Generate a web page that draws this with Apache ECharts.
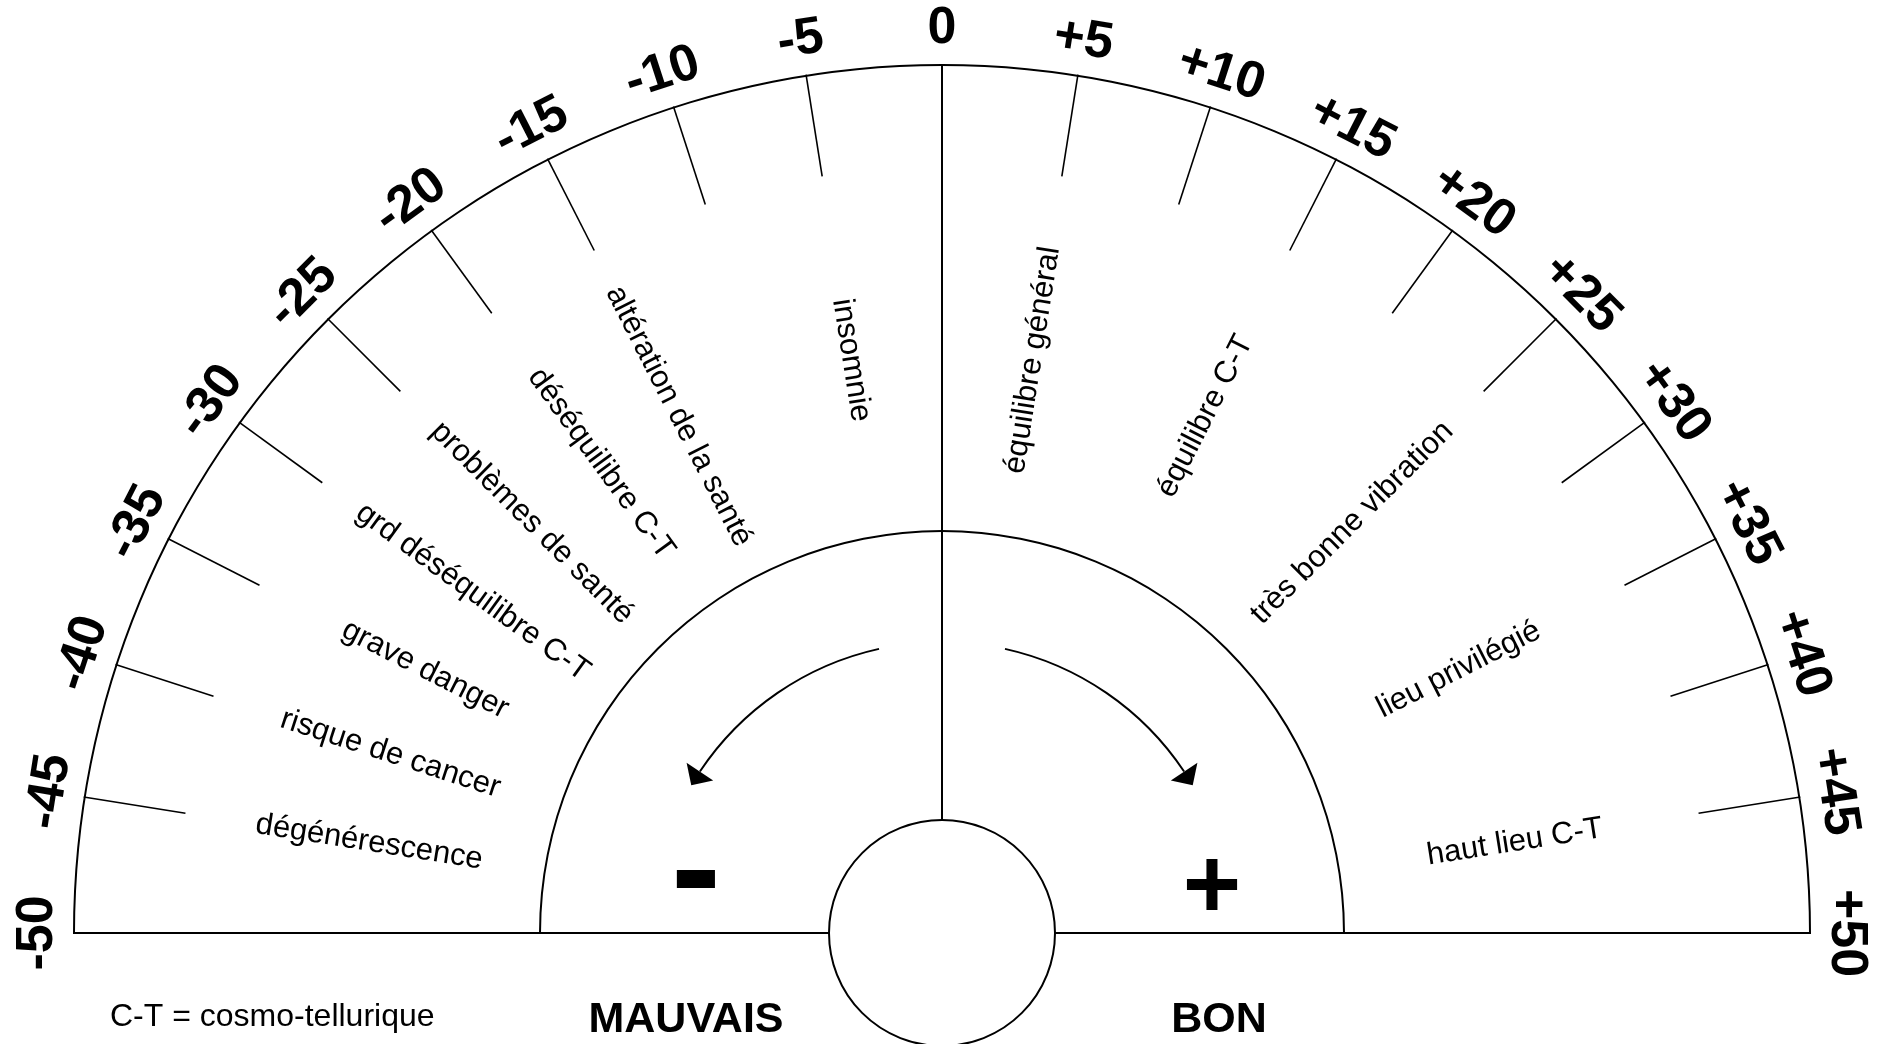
<!DOCTYPE html>
<html>
<head>
<meta charset="utf-8" />
<script type="text/javascript" src="https://cdn.jsdelivr.net/npm/echarts@6/dist/echarts.min.js"></script>
<style>
html, body { margin: 0; padding: 0; background: #fff; }
#dial { width: 1895px; height: 1044px; }
</style>
</head>
<body>
<div id="dial"></div>
<script>
// graduation du cadran
var scaleMin = -50;
var scaleMax = 50;
var scaleStep = 5;
// zones (valeur de graduation -> libellé)
var zoneValues = [-45, -40, -35, -30, -25, -20, -15, -5, 5, 15, 25, 35, 45];
var zoneLabels = ['dégénérescence', 'risque de cancer', 'grave danger', 'grd déséquilibre C-T',
  'problèmes de santé', 'déséquilibre C-T', 'altération de la santé', 'insomnie',
  'équilibre général', 'équilibre C-T', 'très bonne vibration', 'lieu privilégié', 'haut lieu C-T'];
var needleValue = [0];

var cx = 942, cy = 933;
var R = 869, rInner = 403, rHub = 113, rArrow = 291;
var fontName = 'Liberation Sans, Arial, Helvetica, sans-serif';

function pt(deg, r) {
  var a = deg * Math.PI / 180;
  return [cx + r * Math.cos(a), cy - r * Math.sin(a)];
}
function rad(deg) { return deg * Math.PI / 180; }

var chart = echarts.init(document.getElementById('dial'));
var nSplit = (scaleMax - scaleMin) / scaleStep;

chart.setOption({
  backgroundColor: '#fff',
  animation: false,
  series: [
    {
      // cadran extérieur, graduations, chiffres
      type: 'gauge', center: [cx, cy], radius: R,
      startAngle: 180, endAngle: 0, min: scaleMin, max: scaleMax, splitNumber: nSplit,
      axisLine: { lineStyle: { width: 2, color: [[1, '#000']] } },
      axisTick: { show: false },
      splitLine: { length: 103, distance: -2, lineStyle: { width: 1.6, color: '#000' } },
      axisLabel: {
        distance: -136, rotate: 'tangential', color: '#000',
        fontFamily: fontName, fontWeight: 'bold', fontSize: 52,
        formatter: function (v) { return v > 0 ? '+' + v : '' + v; }
      },
      pointer: { show: true, icon: 'rect', width: 2, length: '100%', itemStyle: { color: '#000' } },
      anchor: { show: true, showAbove: true, size: rHub * 2, icon: 'circle',
        itemStyle: { color: '#fff', borderColor: '#000', borderWidth: 2 } },
      title: { show: false }, detail: { show: false },
      data: needleValue.map(function (v) { return { value: v }; })
    },
    {
      // libellés des zones
      type: 'gauge', center: [cx, cy], radius: 580,
      startAngle: 180, endAngle: 0, min: scaleMin, max: scaleMax, splitNumber: nSplit,
      axisLine: { show: false, lineStyle: { width: 0 } },
      axisTick: { show: false },
      splitLine: { show: false, length: 0, distance: 0 },
      axisLabel: {
        distance: 0, rotate: 'radial', color: '#000',
        fontFamily: fontName, fontSize: 31,
        formatter: function (v) {
          var i = zoneValues.indexOf(v);
          return i < 0 ? '' : zoneLabels[i];
        }
      },
      pointer: { show: false }, anchor: { show: false },
      title: { show: false }, detail: { show: false },
      data: []
    },
    {
      // demi-cercle intérieur
      type: 'gauge', center: [cx, cy], radius: rInner,
      startAngle: 180, endAngle: 0, min: scaleMin, max: scaleMax,
      axisLine: { lineStyle: { width: 2, color: [[1, '#000']] } },
      axisTick: { show: false }, splitLine: { show: false }, axisLabel: { show: false },
      pointer: { show: false }, anchor: { show: false },
      title: { show: false }, detail: { show: false },
      data: []
    }
  ],
  graphic: [
    { type: 'line', shape: { x1: cx - R, y1: cy, x2: cx + R, y2: cy }, style: { stroke: '#000', lineWidth: 2 } },
    { type: 'arc', shape: { cx: cx, cy: cy, r: rArrow, startAngle: rad(-102.5), endAngle: rad(-146.3), clockwise: false },
      style: { stroke: '#000', lineWidth: 2, fill: null } },
    { type: 'arc', shape: { cx: cx, cy: cy, r: rArrow, startAngle: rad(-77.5), endAngle: rad(-33.7), clockwise: true },
      style: { stroke: '#000', lineWidth: 2, fill: null } },
    { type: 'polygon', shape: { points: [pt(149.5, rArrow), pt(146.3, rArrow - 16), pt(146.3, rArrow + 16)] }, style: { fill: '#000' } },
    { type: 'polygon', shape: { points: [pt(30.5, rArrow), pt(33.7, rArrow - 16), pt(33.7, rArrow + 16)] }, style: { fill: '#000' } },
    { type: 'text', x: 696, y: 877, style: { text: '-', font: 'bold 150px ' + fontName, fill: '#000', align: 'center', verticalAlign: 'middle' } },
    { type: 'text', x: 1212, y: 890, style: { text: '+', font: 'bold 100px ' + fontName, fill: '#000', align: 'center', verticalAlign: 'middle' } },
    { type: 'text', x: 686, y: 1020, style: { text: 'MAUVAIS', font: 'bold 43px ' + fontName, fill: '#000', align: 'center', verticalAlign: 'middle' } },
    { type: 'text', x: 1219, y: 1020, style: { text: 'BON', font: 'bold 43px ' + fontName, fill: '#000', align: 'center', verticalAlign: 'middle' } },
    { type: 'text', x: 110, y: 1017, style: { text: 'C-T = cosmo-tellurique', font: '32px ' + fontName, fill: '#000', align: 'left', verticalAlign: 'middle' } }
  ]
});
</script>
</body>
</html>
